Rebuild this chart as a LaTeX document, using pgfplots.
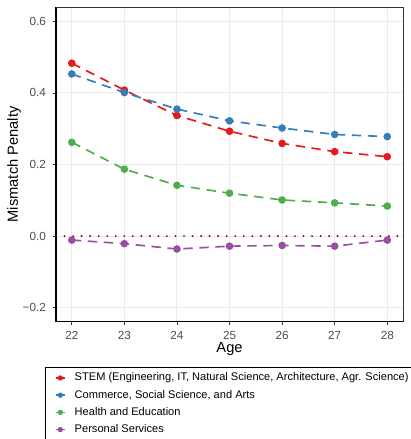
\documentclass[border=0pt]{standalone}
\usepackage{pgfplots}
\pgfplotsset{compat=1.18}
\usepackage{fontspec}
\setmainfont{Liberation Sans}
\definecolor{cRed}{HTML}{E41A1C}
\definecolor{cBlue}{HTML}{377EB8}
\definecolor{cGreen}{HTML}{4DAF4A}
\definecolor{cPurple}{HTML}{984EA3}
\definecolor{gridc}{HTML}{EBEBEB}
\definecolor{tickc}{HTML}{4D4D4D}
\definecolor{borderc}{HTML}{333333}
\begin{document}
\begin{tikzpicture}
\begin{axis}[
  scale only axis,
  width=260.25pt, height=236pt,
  xmin=21.7, xmax=28.3,
  ymin=-0.239, ymax=0.64,
  axis x line*=bottom, axis y line*=left,
  axis line style={black, line width=0.9pt, -},
  xtick={22,23,24,25,26,27,28},
  ytick={-0.2,0,0.2,0.4,0.6},
  yticklabels={−0.2,0.0,0.2,0.4,0.6},
  /pgf/number format/assume math mode=true,
  tick align=outside,
  major tick length=2.6pt,
  tick style={borderc, line width=0.6pt},
  ticklabel style={font=\fontsize{8.8}{10}\selectfont, text=tickc},
  xticklabel style={yshift=-1pt},
  yticklabel style={xshift=-1.5pt},
  grid=major,
  major grid style={gridc, line width=0.8pt},
  xlabel={Age},
  ylabel={Mismatch Penalty},
  label style={font=\fontsize{11}{13}\selectfont},
  xlabel style={at={([yshift=-23.2pt]axis description cs:0.5,0)}, anchor=base},
  ylabel style={at={([xshift=-28.6pt]axis description cs:0,0.5)}, anchor=base, rotate=0},
  clip=false,
  legend style={at={([xshift=-8pt,yshift=-34.3pt]axis description cs:0,0)}, anchor=north west,
    draw=black, line width=0.5pt, fill=white,
    font=\fontsize{8.3}{9.5}\selectfont,
    inner xsep=7pt, inner ysep=3.4pt,
    row sep=4.4pt, column sep=6.8pt,
    nodes={inner sep=0pt, text height=6.5pt, text depth=2pt}},
  legend cell align=left,
  legend image code/.code={
    \draw[#1, solid, line width=1.2pt] (0pt,0pt) -- (6.8pt,0pt);
    \fill[#1, draw=none] (3.4pt,0pt) circle (2pt);
  },
  every axis plot/.append style={line width=1.25pt, dash pattern=on 7pt off 5pt, mark=*, mark size=2.2pt, mark options={solid}},
]
\addplot[forget plot, color=red!55!black, line width=1.6pt, line cap=round, dash pattern=on 0pt off 6.4pt, mark=none] coordinates {(21.7,0) (28.3,0)};
\addplot[color=cRed, mark options={fill=cRed, draw=cRed, solid}] coordinates {
(22,0.483) (23,0.408) (24,0.337) (25,0.293) (26,0.259) (27,0.236) (28,0.222)};
\addplot[color=cBlue, mark options={fill=cBlue, draw=cBlue, solid}] coordinates {
(22,0.453) (23,0.401) (24,0.355) (25,0.322) (26,0.302) (27,0.284) (28,0.278)};
\addplot[color=cGreen, mark options={fill=cGreen, draw=cGreen, solid}] coordinates {
(22,0.262) (23,0.187) (24,0.142) (25,0.120) (26,0.101) (27,0.093) (28,0.084)};
\addplot[color=cPurple, mark options={fill=cPurple, draw=cPurple, solid}] coordinates {
(22,-0.011) (23,-0.021) (24,-0.036) (25,-0.028) (26,-0.026) (27,-0.028) (28,-0.011)};
\legend{{STEM (Engineering, IT, Natural Science, Architecture, Agr. Science)},
{Commerce, Social Science, and Arts},
{Health and Education},
{Personal Services}}
\draw[borderc, line width=0.6pt] (rel axis cs:0,1) -- (rel axis cs:1,1) -- (rel axis cs:1,0);
\end{axis}
\pgfresetboundingbox
\useasboundingbox (-42pt,-87.95pt) rectangle (265.5pt,241.25pt);
\end{tikzpicture}
\end{document}
